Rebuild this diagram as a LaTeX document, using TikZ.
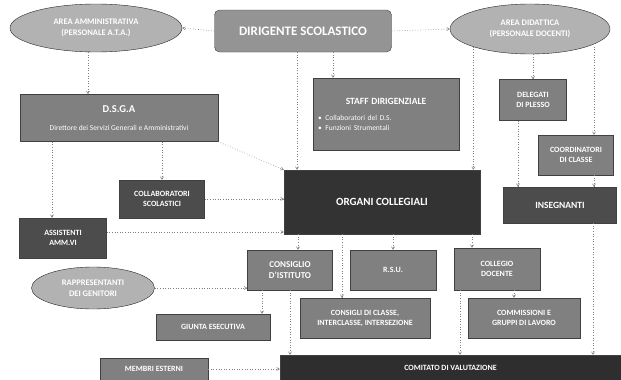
\documentclass[tikz,border=0pt]{standalone}
\usepackage{fontspec}
\setmainfont{Carlito}
\usetikzlibrary{shapes.geometric,arrows.meta}
\begin{document}
\begin{tikzpicture}[x=1pt, y=-1pt,
  every node/.style={font=\bfseries\fontsize{8}{10}\selectfont, text=white, align=center, inner sep=1pt},
  box/.style 2 args={draw=black!75, fill=black!50, minimum width=#1pt, minimum height=#2pt},
  darkbox/.style 2 args={box={#1}{#2}, fill=black!70},
  oval/.style 2 args={ellipse, draw=black!85, fill=black!30, minimum width=#1pt, minimum height=#2pt, font=\bfseries\fontsize{8.5}{11}\selectfont},
  link/.style={draw=black!50, dotted, line width=0.6pt, -{Straight Barb[length=2.5pt, width=3pt]}}]
  \useasboundingbox (0,0) rectangle (621,380);
  % Top level
  \node[oval={172}{48}] (amm) at (96,28) {AREA AMMINISTRATIVA\\(PERSONALE A.T.A.)};
  \node[box={177}{42}, fill=black!42, rounded corners=5pt, font=\bfseries\fontsize{13}{14}\selectfont] (dir) at (303,31) {DIRIGENTE SCOLASTICO};
  \node[oval={160}{50}] (did) at (530,29) {AREA DIDATTICA\\(PERSONALE DOCENTI)};
  % Second level
  \node[box={198}{47}] (dsga) at (119,118) {{\fontsize{10.5}{12}\selectfont D.S.G.A}\\[8pt]{\mdseries\fontsize{7.5}{10}\selectfont Direttore dei Servizi Generali e Amministrativi}};
  \node[box={146}{72}, text width=136pt, align=left] (staff) at (386,114)
    {{\centering\fontsize{9.5}{12}\selectfont STAFF DIRIGENZIALE\par}\vspace{6pt}
     {\mdseries\fontsize{7.5}{10}\selectfont \textbullet\enspace Collaboratori del D.S.\par\textbullet\enspace Funzioni Strumentali}};
  \node[box={67}{41}] (del) at (533,100) {DELEGATI\\DI PLESSO};
  \node[box={75}{40}] (coord) at (576,155) {COORDINATORI\\DI CLASSE};
  % Middle level
  \node[darkbox={196}{64}, fill=black!80, font=\bfseries\fontsize{11}{12}\selectfont] (org) at (382,202) {ORGANI COLLEGIALI};
  \node[darkbox={113}{36}, font=\bfseries\fontsize{9.5}{12}\selectfont] (ins) at (560,205) {INSEGNANTI};
  \node[darkbox={85}{38}] (coll) at (162,199) {COLLABORATORI\\SCOLASTICI};
  \node[darkbox={87}{40}] (ass) at (63,238) {ASSISTENTI\\AMM.VI};
  \node[oval={123}{42}] (rap) at (93,288) {RAPPRESENTANTI\\DEI GENITORI};
  % Organi collegiali
  \node[box={85}{40}, font=\bfseries\fontsize{9}{11}\selectfont] (cons) at (290,270) {CONSIGLIO\\D'ISTITUTO};
  \node[box={86}{40}] (rsu) at (393,270) {R.S.U.};
  \node[box={86}{42}] (colleg) at (497,269) {COLLEGIO\\DOCENTE};
  \node[box={114}{26}] (giunta) at (213,327) {GIUNTA ESECUTIVA};
  \node[box={130}{40}] (consc) at (365,318) {CONSIGLI DI CLASSE,\\INTERCLASSE, INTERSEZIONE};
  \node[box={112}{40}] (comm) at (524,318) {COMMISSIONI E\\GRUPPI DI LAVORO};
  \node[box={108}{22}] (memb) at (154,369) {MEMBRI ESTERNI};
  \node[darkbox={341}{26}, fill=black!82] (comit) at (450.5,368) {COMITATO DI VALUTAZIONE};
  % Connectors from the top
  \draw[link] (dir.west) -- (amm.east);
  \draw[link] (dir.east) -- (did.west);
  \draw[link] ([xshift=-8pt]amm.south) -- ([xshift=-8pt]amm.south |- dsga.north);
  \draw[link] ([xshift=30pt]dir.south) -- ([xshift=30pt]dir.south |- staff.north);
  \draw[link] ([xshift=-6pt]dir.south) -- ([xshift=-6pt]dir.south |- org.north);
  \draw[link] (del.north |- did.south) -- (del.north);
  \draw[link] (did.south west) -- (did.south west |- org.north);
  \draw[link] ([xshift=18pt]coord.north |- did.south east) -- ([xshift=18pt]coord.north);
  \draw[link] ([xshift=-15pt]del.south) -- ([xshift=-15pt]del.south |- ins.north);
  \draw[link] ([xshift=18pt]coord.south) -- ([xshift=18pt]coord.south |- ins.north);
  \draw[link] ([xshift=33pt]ins.south) -- ([xshift=33pt]ins.south |- comit.north);
  % D.S.G.A. side
  \draw[link] (dsga.south east) -- (org.north west);
  \draw[link] (coll.north |- dsga.south) -- (coll.north);
  \draw[link] ([xshift=-11pt]ass.north |- dsga.south) -- ([xshift=-11pt]ass.north);
  \draw[link] (coll.east) -- (coll.east -| org.west);
  \draw[link] ([yshift=6pt]ass.east) -- ([yshift=6pt]ass.east -| org.west);
  % Organi collegiali
  \draw[link] ([xshift=8pt]cons.north |- org.south) -- ([xshift=8pt]cons.north);
  \draw[link] ([xshift=-23pt]consc.north |- org.south) -- ([xshift=-23pt]consc.north);
  \draw[link] (rsu.north |- org.south) -- (rsu.north);
  \draw[link] ([xshift=-25pt]colleg.north |- org.south) -- ([xshift=-25pt]colleg.north);
  \draw[link] ([xshift=-10pt]comm.north |- colleg.south) -- ([xshift=-10pt]comm.north);
  \draw[link] ([xshift=-37pt]colleg.south) -- ([xshift=-37pt]colleg.south |- comit.north);
  \draw[link] (cons.south) -- (cons.south |- comit.north);
  \draw[link] ([xshift=-28pt]cons.south) -- ([xshift=-28pt]cons.south |- giunta.north);
  \draw[link] (rap.east) -- (rap.east -| cons.west);
  \draw[link] (memb.east) -- (memb.east -| comit.west);
\end{tikzpicture}
\end{document}
